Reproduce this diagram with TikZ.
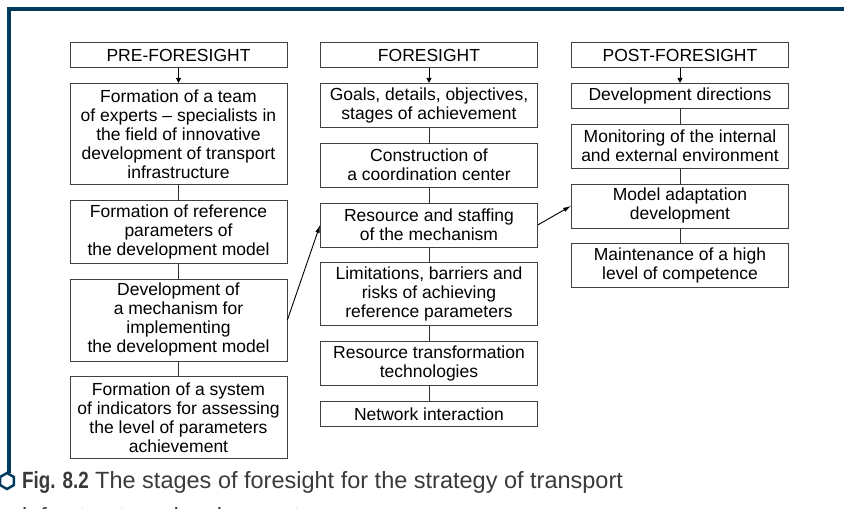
\documentclass[tikz,border=0pt]{standalone}
\usepackage{fontspec}
\setmainfont{Liberation Sans}
\usepackage{xcolor}
\usetikzlibrary{arrows.meta,positioning,shapes.geometric}
\definecolor{frameblue}{HTML}{003A5D}
\definecolor{captext}{HTML}{3A3A3A}

\begin{document}
\begin{tikzpicture}[
  x=1pt, y=-1pt,
  font=\fontsize{17.5}{19}\selectfont,
  box/.style={draw=black!75, line width=0.8pt, align=center, inner sep=2pt,
    minimum width=217pt, minimum height={6pt+19pt*#1}},
  box/.default=1,
  node distance=15pt,
  head/.style={-{Triangle[length=5pt,width=5pt]}, line width=0.8pt},
  link/.style={line width=0.8pt, black!80},
  arr/.style={-{Latex[length=8pt,width=4.5pt]}, line width=0.9pt}
]
\useasboundingbox (0,0) rectangle (844,509);
% frame
\draw[frameblue, line width=4pt] (844,9) -| (9,473);

% headers
\node[box] (pre) at (178.5,55) {PRE-FORESIGHT};
\node[box] (fore) at (429,55) {FORESIGHT};
\node[box] (post) at (680,55) {POST-FORESIGHT};

% pre-foresight column
\node[box=5, below=of pre] (preA) {Formation of a team\\of experts – specialists in\\the field of innovative\\development of transport\\infrastructure};
\node[box=3, below=of preA] (preB) {Formation of reference\\parameters of\\the development model};
\node[box=4, below=of preB] (preC) {Development of\\a mechanism for\\implementing\\the development model};
\node[box=4, below=of preC] (preD) {Formation of a system\\of indicators for assessing\\the level of parameters\\achievement};

% foresight column
\node[box=2, below=of fore] (foreA) {Goals, details, objectives,\\stages of achievement};
\node[box=2, below=of foreA] (foreB) {Construction of\\a coordination center};
\node[box=2, below=of foreB] (foreC) {Resource and staffing\\of the mechanism};
\node[box=3, below=of foreC] (foreD) {Limitations, barriers and\\risks of achieving\\reference parameters};
\node[box=2, below=of foreD] (foreE) {Resource transformation\\technologies};
\node[box=1, below=of foreE] (foreF) {Network interaction};

% post-foresight column
\node[box=1, below=of post] (postA) {Development directions};
\node[box=2, below=of postA] (postB) {Monitoring of the internal\\and external environment};
\node[box=2, below=of postB] (postC) {Model adaptation\\development};
\node[box=2, below=of postC] (postD) {Maintenance of a high\\level of competence};

\draw[head] (pre) -- (preA);
\draw[head] (fore) -- (foreA);
\draw[head] (post) -- (postA);
\draw[link] (preA) -- (preB);
\draw[link] (preB) -- (preC);
\draw[link] (preC) -- (preD);
\draw[link] (foreA) -- (foreB);
\draw[link] (foreB) -- (foreC);
\draw[link] (foreC) -- (foreD);
\draw[link] (foreD) -- (foreE);
\draw[link] (foreE) -- (foreF);
\draw[link] (postA) -- (postB);
\draw[link] (postB) -- (postC);
\draw[link] (postC) -- (postD);
\draw[arr] (preC.east) -- (foreC.west);
\draw[arr] (foreC.east) -- (postC.west);

% caption
\node[draw=frameblue, line width=2.5pt, regular polygon, regular polygon sides=6,
  shape border rotate=90, minimum size=16pt, inner sep=0pt] (hex) at (7,481) {};
\node[anchor=base west, inner sep=0pt, text=captext, font=\fontsize{23.5}{27}\selectfont]
  (cap) at (22,488) {{\addfontfeature{FakeStretch=0.8}\bfseries Fig. 8.2} The stages of foresight for the strategy of transport};
\node[anchor=base west, inner sep=0pt, text=captext, font=\fontsize{23.5}{27}\selectfont]
  (cap2) at (22,524) {infrastructure development};
\end{tikzpicture}
\end{document}
